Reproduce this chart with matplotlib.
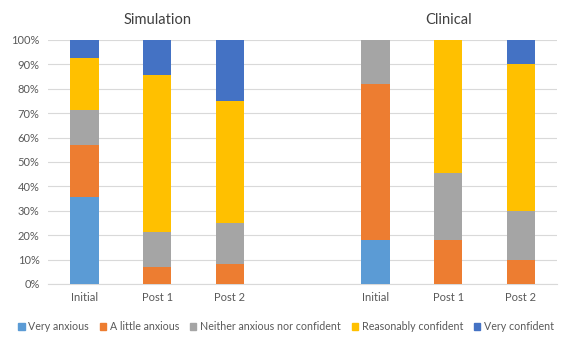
import numpy as np
import matplotlib.pyplot as plt
from matplotlib.patches import Patch

plt.rcParams['font.family'] = ['Lato', 'DejaVu Sans']

# categories / groups
groups = ["Simulation", "Clinical"]
stages = ["Initial", "Post 1", "Post 2"]
series = ["Very anxious", "A little anxious", "Neither anxious nor confident",
          "Reasonably confident", "Very confident"]
colors = ["#5B9BD5", "#ED7D31", "#A5A5A5", "#FFC000", "#4472C4"]

# percentages per series: Sim Initial, Sim Post1, Sim Post2, Clin Initial, Clin Post1, Clin Post2
very_anxious = [35.7, 0, 0, 18.2, 0, 0]
little_anxious = [21.4, 7.1, 8.3, 63.6, 18.2, 10.0]
neither = [14.3, 14.3, 16.7, 18.2, 27.3, 20.0]
reasonably = [21.4, 64.3, 50.0, 0, 54.5, 60.0]
very_confident = [7.1, 14.3, 25.0, 0, 0, 10.0]

data = [very_anxious, little_anxious, neither, reasonably, very_confident]
x_pos = [0, 1, 2, 4, 5, 6]
labels = stages + stages

fig = plt.figure(figsize=(5.63, 3.38), dpi=100)
ax = fig.add_axes([0.0853, 0.1598, 0.9047, 0.7219])

bottom = np.zeros(len(x_pos))
for vals, col in zip(data, colors):
    ax.bar(x_pos, vals, width=0.39, bottom=bottom, color=col, zorder=3)
    bottom += np.array(vals)

ax.set_xlim(-0.5, 6.5)
ax.set_ylim(0, 100)
ax.set_yticks(np.arange(0, 101, 10))
ax.set_yticklabels([str(v) + "%" for v in range(0, 101, 10)])
ax.set_xticks(x_pos)
ax.set_xticklabels(labels)
ax.tick_params(length=0, labelsize=8, colors="#595959", pad=6)
ax.yaxis.grid(True, color="#D9D9D9", lw=0.8, zorder=0)

#remove the borders
for s in ['top', 'right', 'left']:
    ax.spines[s].set_visible(False)
ax.spines['bottom'].set_color("#D9D9D9")

#group titles
ax.text(1, 1.055, groups[0], transform=ax.get_xaxis_transform(), ha='center', va='bottom',
        fontsize=10.5, color="#404040")
ax.text(5, 1.055, groups[1], transform=ax.get_xaxis_transform(), ha='center', va='bottom',
        fontsize=10.5, color="#404040")

handles = [Patch(color=c, label=l) for c, l in zip(colors, series)]
fig.legend(handles=handles, loc='center', bbox_to_anchor=(0.508, 0.033), ncol=5,
           frameon=False, fontsize=7.7, handlelength=0.6, handleheight=0.6,
           handletextpad=0.35, columnspacing=1.0, labelcolor="#595959",
           borderpad=0.1, borderaxespad=0)

fig.savefig("out.png", dpi=100)
